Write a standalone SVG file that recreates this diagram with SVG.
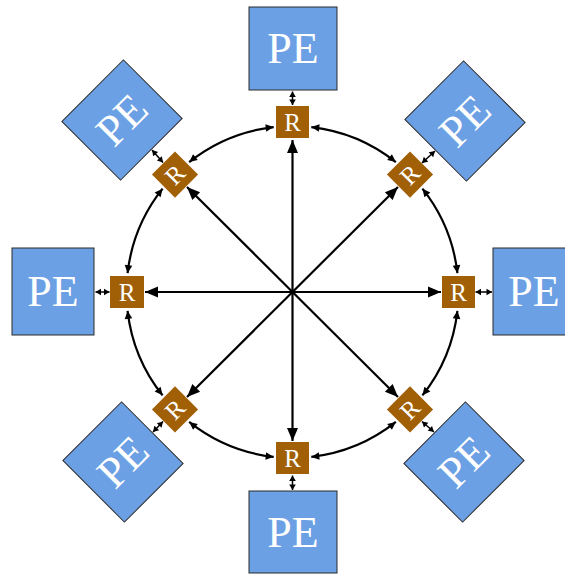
<svg xmlns="http://www.w3.org/2000/svg" width="565" height="574" viewBox="0 0 565 574">
<style>
.pe{fill:#6CA0E4;stroke:#2a2a2a;stroke-width:1}
.r{fill:#A15F06}
.pet{font-family:"Liberation Serif","Times New Roman",serif;font-size:44px;fill:#fff;text-anchor:middle}
.rt{font-family:"Liberation Serif","Times New Roman",serif;font-size:25px;fill:#fff;text-anchor:middle}
.spoke{stroke:#000;stroke-width:2.2;fill:none;marker-end:url(#big)}
.arc{stroke:#000;stroke-width:2.2;fill:none;marker-start:url(#sm);marker-end:url(#sm)}
.link{stroke:#000;stroke-width:1.5;fill:none;marker-start:url(#tiny);marker-end:url(#tiny)}
</style>
<defs>
<marker id="big" markerUnits="userSpaceOnUse" markerWidth="16" markerHeight="14" viewBox="-14 -7 16 14" refX="0" refY="0" orient="auto"><path d="M0,0 L-13,-5.5 L-13,5.5 z" fill="#000"/></marker>
<marker id="sm" markerUnits="userSpaceOnUse" markerWidth="12" markerHeight="10" viewBox="-10 -5 12 10" refX="0" refY="0" orient="auto-start-reverse"><path d="M0,0 L-8,-3.8 L-8,3.8 z" fill="#000"/></marker>
<marker id="tiny" markerUnits="userSpaceOnUse" markerWidth="8" markerHeight="8" viewBox="-7 -4 8 8" refX="0" refY="0" orient="auto-start-reverse"><path d="M0,0 L-5.5,-3.3 L-5.5,3.3 z" fill="#000"/></marker>
</defs>
<g id="connectors">
<line class="spoke" x1="292.5" y1="292" x2="292.5" y2="140"/>
<line class="spoke" x1="292.5" y1="292" x2="292.5" y2="441"/>
<line class="spoke" x1="292.5" y1="292" x2="145" y2="292"/>
<line class="spoke" x1="292.5" y1="292" x2="441" y2="292"/>
<line class="spoke" x1="292.5" y1="292" x2="187" y2="187"/>
<line class="spoke" x1="292.5" y1="292" x2="398" y2="187"/>
<line class="spoke" x1="292.5" y1="292" x2="187" y2="397"/>
<line class="spoke" x1="292.5" y1="292" x2="398" y2="397"/>
<path class="arc" d="M457.43,310.79 A166,166 0 0 1 422.41,395.34"/>
<path class="arc" d="M395.84,421.91 A166,166 0 0 1 311.29,456.93"/>
<path class="arc" d="M273.71,456.93 A166,166 0 0 1 189.16,421.91"/>
<path class="arc" d="M162.59,395.34 A166,166 0 0 1 127.57,310.79"/>
<path class="arc" d="M127.57,273.21 A166,166 0 0 1 162.59,188.66"/>
<path class="arc" d="M189.16,162.09 A166,166 0 0 1 273.71,127.07"/>
<path class="arc" d="M311.29,127.07 A166,166 0 0 1 395.84,162.09"/>
<path class="arc" d="M422.41,188.66 A166,166 0 0 1 457.43,273.21"/>
<line class="link" x1="292.5" y1="91.5" x2="292.5" y2="105"/>
<line class="link" x1="292.5" y1="475.5" x2="292.5" y2="490"/>
<line class="link" x1="95.5" y1="292" x2="109.5" y2="292"/>
<line class="link" x1="475.5" y1="292" x2="492" y2="292"/>
<line class="link" x1="152" y1="150" x2="163" y2="162.5"/>
<line class="link" x1="435" y1="151" x2="422" y2="163"/>
<line class="link" x1="153" y1="432" x2="163" y2="421.5"/>
<line class="link" x1="434" y1="432" x2="422" y2="421.5"/>
</g>
<g id="pe-top"><rect class="pe" x="249" y="7" width="88" height="83"/><text class="pet" x="293" y="63">PE</text></g>
<g id="pe-bottom"><rect class="pe" x="249" y="491" width="88" height="82"/><text class="pet" x="293" y="546.5">PE</text></g>
<g id="pe-left"><rect class="pe" x="12" y="248" width="82" height="87"/><text class="pet" x="53" y="306">PE</text></g>
<g id="pe-right"><rect class="pe" x="493" y="248" width="82" height="87"/><text class="pet" x="534" y="306">PE</text></g>
<g id="pe-tl" transform="translate(122,120) rotate(-45)"><rect class="pe" x="-43.5" y="-41.5" width="87" height="83"/><text class="pet" x="0" y="14.5">PE</text></g>
<g id="pe-tr" transform="translate(465,121) rotate(-45)"><rect class="pe" x="-41.5" y="-43.5" width="83" height="87"/><text class="pet" x="0" y="14.5">PE</text></g>
<g id="pe-bl" transform="translate(123,462) rotate(-45)"><rect class="pe" x="-41.5" y="-43.5" width="83" height="87"/><text class="pet" x="0" y="14.5">PE</text></g>
<g id="pe-br" transform="translate(464,462) rotate(-45)"><rect class="pe" x="-43.5" y="-41.5" width="87" height="83"/><text class="pet" x="0" y="14.5">PE</text></g>
<g id="r-top"><rect class="r" x="276" y="106" width="33" height="32"/><text class="rt" x="292.5" y="130.5">R</text></g>
<g id="r-bottom"><rect class="r" x="276" y="442" width="33" height="32"/><text class="rt" x="292.5" y="466.5">R</text></g>
<g id="r-left"><rect class="r" x="110" y="276" width="34" height="32"/><text class="rt" x="127" y="300.5">R</text></g>
<g id="r-right"><rect class="r" x="442" y="276" width="33" height="32"/><text class="rt" x="458.5" y="300.5">R</text></g>
<g id="r-tl" transform="translate(175,174.6) rotate(-45)"><rect class="r" x="-16.3" y="-16.3" width="32.6" height="32.6"/><text class="rt" x="0" y="8.5">R</text></g>
<g id="r-tr" transform="translate(410,174.6) rotate(-45)"><rect class="r" x="-16.3" y="-16.3" width="32.6" height="32.6"/><text class="rt" x="0" y="8.5">R</text></g>
<g id="r-bl" transform="translate(175,409.4) rotate(-45)"><rect class="r" x="-16.3" y="-16.3" width="32.6" height="32.6"/><text class="rt" x="0" y="8.5">R</text></g>
<g id="r-br" transform="translate(410,409.4) rotate(-45)"><rect class="r" x="-16.3" y="-16.3" width="32.6" height="32.6"/><text class="rt" x="0" y="8.5">R</text></g>
</svg>
